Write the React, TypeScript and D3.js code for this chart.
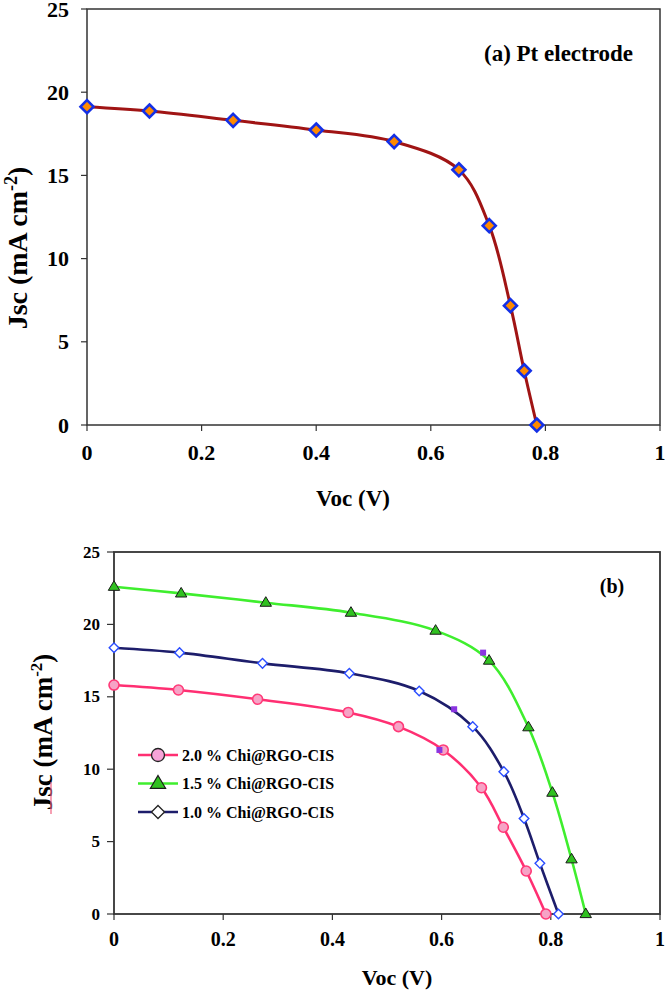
import React from "react";
import * as d3 from "d3";

// ---------- Data ----------
const xTicks = [0, 0.2, 0.4, 0.6, 0.8, 1];
const xTickLabels = ["0", "0.2", "0.4", "0.6", "0.8", "1"];
const yTicks = [0, 5, 10, 15, 20, 25];

// (a) Pt electrode
const ptV = [0, 0.109, 0.255, 0.4, 0.536, 0.649, 0.702, 0.739, 0.763, 0.785];
const ptJ = [19.13, 18.87, 18.31, 17.73, 17.03, 15.34, 11.98, 7.17, 3.26, 0];

// (b) Chi@RGO-CIS series
const s20V = [0, 0.118, 0.263, 0.429, 0.521, 0.603, 0.673, 0.713, 0.755, 0.791];
const s20J = [15.81, 15.47, 14.83, 13.92, 12.94, 11.33, 8.72, 5.99, 2.97, 0];
const s15V = [0, 0.123, 0.278, 0.434, 0.589, 0.687, 0.759, 0.803, 0.838, 0.864];
const s15J = [22.6, 22.14, 21.5, 20.81, 19.57, 17.5, 12.9, 8.38, 3.78, 0];
const s10V = [0, 0.12, 0.272, 0.431, 0.559, 0.657, 0.714, 0.751, 0.78, 0.814];
const s10J = [18.39, 18.05, 17.31, 16.62, 15.4, 12.94, 9.83, 6.6, 3.5, 0];
// small purple square markers (max power points)
const mppV = [0.596, 0.676, 0.623];
const mppJ = [11.33, 18.05, 14.14];

const legendLabels = ["2.0 % Chi@RGO-CIS", "1.5 % Chi@RGO-CIS", "1.0 % Chi@RGO-CIS"];

const FONT = '"Liberation Serif", "DejaVu Serif", serif';

function zip(xs: number[], ys: number[]) {
  return xs.map((x, i) => [x, ys[i]] as [number, number]);
}

function diamond(cx: number, cy: number, r: number) {
  return `M${cx},${cy - r}L${cx + r},${cy}L${cx},${cy + r}L${cx - r},${cy}Z`;
}
function triangle(cx: number, cy: number, r: number) {
  return `M${cx},${cy - r}L${cx + r * 0.95},${cy + r * 0.6}L${cx - r * 0.95},${cy + r * 0.6}Z`;
}

export default function App() {
  // ---------- Panel (a) ----------
  const ax = d3.scaleLinear().domain([0, 1]).range([87, 660]);
  const ay = d3.scaleLinear().domain([0, 25]).range([425, 9]);
  const aLine = d3
    .line<[number, number]>()
    .x((d) => ax(d[0]))
    .y((d) => ay(d[1]))
    .curve(d3.curveCatmullRom.alpha(0.5));
  const ptData = zip(ptV, ptJ);

  // ---------- Panel (b) ----------
  const bx = d3.scaleLinear().domain([0, 1]).range([114, 660]);
  const by = d3.scaleLinear().domain([0, 25]).range([914, 552]);
  const bLine = d3
    .line<[number, number]>()
    .x((d) => bx(d[0]))
    .y((d) => by(d[1]))
    .curve(d3.curveCatmullRom.alpha(0.5));
  const d20 = zip(s20V, s20J);
  const d15 = zip(s15V, s15J);
  const d10 = zip(s10V, s10J);

  const axisColor = "#333";

  return (
    <svg
      width={668}
      height={994}
      style={{ position: "absolute", left: 0, top: 0, background: "#fff", fontFamily: FONT }}
    >
      <rect x={0} y={0} width={668} height={994} fill="#fff" />

      {/* ===== Panel (a) ===== */}
      <g>
        <rect
          x={ax(0)}
          y={ay(25)}
          width={ax(1) - ax(0)}
          height={ay(0) - ay(25)}
          fill="none"
          stroke={axisColor}
          strokeWidth={1.5}
        />
        {yTicks.map((t) => (
          <g key={"ay" + t}>
            <line x1={ax(0) - 6} x2={ax(0)} y1={ay(t)} y2={ay(t)} stroke={axisColor} strokeWidth={1.2} />
            <text x={69} y={ay(t) + 7.5} textAnchor="end" fontSize={22} fontWeight="bold">
              {t}
            </text>
          </g>
        ))}
        {xTicks.map((t, i) => (
          <g key={"ax" + t}>
            <line x1={ax(t)} x2={ax(t)} y1={ay(0)} y2={ay(0) + 6} stroke={axisColor} strokeWidth={1.2} />
            <text x={ax(t)} y={460} textAnchor="middle" fontSize={22} fontWeight="bold">
              {xTickLabels[i]}
            </text>
          </g>
        ))}
        <text x={353} y={506} textAnchor="middle" fontSize={23} fontWeight="bold">
          Voc (V)
        </text>
        <text transform="translate(27,248) rotate(-90)" textAnchor="middle" fontSize={28} fontWeight="bold">
          Jsc (mA cm
          <tspan dy={-10} fontSize={18}>
            -2
          </tspan>
          <tspan dy={10}>)</tspan>
        </text>
        <text x={633} y={61} textAnchor="end" fontSize={23} fontWeight="bold">
          (a) Pt electrode
        </text>
        <path d={aLine(ptData) || ""} fill="none" stroke="#a01414" strokeWidth={3} />
        {ptData.map((d, i) => (
          <path
            key={"pt" + i}
            d={diamond(ax(d[0]), ay(d[1]), 6.5)}
            fill="#ff8a00"
            stroke="#1430e6"
            strokeWidth={2.6}
          />
        ))}
      </g>

      {/* ===== Panel (b) ===== */}
      <g>
        <rect
          x={bx(0)}
          y={by(25)}
          width={bx(1) - bx(0)}
          height={by(0) - by(25)}
          fill="none"
          stroke={axisColor}
          strokeWidth={1.8}
        />
        {yTicks.map((t) => (
          <g key={"by" + t}>
            <line x1={bx(0) - 7} x2={bx(0)} y1={by(t)} y2={by(t)} stroke={axisColor} strokeWidth={1.2} />
            <text x={100} y={by(t) + 5.5} textAnchor="end" fontSize={17} fontWeight="bold">
              {t}
            </text>
          </g>
        ))}
        {xTicks.map((t, i) => (
          <g key={"bx" + t}>
            <line x1={bx(t)} x2={bx(t)} y1={by(0)} y2={by(0) + 6} stroke={axisColor} strokeWidth={1.2} />
            <text x={bx(t)} y={946} textAnchor="middle" fontSize={20} fontWeight="bold">
              {xTickLabels[i]}
            </text>
          </g>
        ))}
        <text x={397} y={985} textAnchor="middle" fontSize={22} fontWeight="bold">
          Voc (V)
        </text>
        <text transform="translate(52,732) rotate(-90)" textAnchor="middle" fontSize={27} fontWeight="bold">
          Jsc (mA cm
          <tspan dy={-10} fontSize={17}>
            -2
          </tspan>
          <tspan dy={10}>)</tspan>
        </text>
        <line x1={51} x2={51} y1={782} y2={814} stroke="#f06080" strokeWidth={1.2} />
        <text x={612} y={593} textAnchor="middle" fontSize={20} fontWeight="bold">
          (b)
        </text>

        {/* curves */}
        <path d={bLine(d20) || ""} fill="none" stroke="#ff2f72" strokeWidth={2.6} />
        <path d={bLine(d10) || ""} fill="none" stroke="#1d1d6b" strokeWidth={2.6} />
        <path d={bLine(d15) || ""} fill="none" stroke="#3fee2e" strokeWidth={2.6} />

        {d20.map((d, i) => (
          <circle key={"c20" + i} cx={bx(d[0])} cy={by(d[1])} r={5} fill="#f6a3c6" stroke="#ff3a78" strokeWidth={1.6} />
        ))}
        {d10.map((d, i) => (
          <path key={"c10" + i} d={diamond(bx(d[0]), by(d[1]), 4.8)} fill="#fff" stroke="#2a4dff" strokeWidth={1.4} />
        ))}
        {d15.map((d, i) => (
          <path key={"c15" + i} d={triangle(bx(d[0]), by(d[1]), 6)} fill="#30c020" stroke="#1a1a1a" strokeWidth={1} />
        ))}
        {mppV.map((v, i) => (
          <rect key={"m" + i} x={bx(v) - 3} y={by(mppJ[i]) - 3} width={6} height={6} fill="#8a35e0" />
        ))}

        {/* legend */}
        {legendLabels.map((lab, i) => {
          const y = 755 + i * 28.5;
          const color = ["#ff2f72", "#3fee2e", "#1d1d6b"][i];
          return (
            <g key={"lg" + i}>
              <line x1={138} x2={178} y1={y} y2={y} stroke={color} strokeWidth={2.6} />
              {i === 0 && <circle cx={158} cy={y} r={6.5} fill="#f6a3d8" stroke="#222" strokeWidth={1.3} />}
              {i === 1 && <path d={triangle(158, y, 8)} fill="#30c020" stroke="#1a1a1a" strokeWidth={1.2} />}
              {i === 2 && <path d={diamond(158, y, 6.5)} fill="#fff" stroke="#222" strokeWidth={1.3} />}
              <text x={182} y={y + 5.5} fontSize={16} fontWeight="bold">
                {lab}
              </text>
            </g>
          );
        })}
      </g>
    </svg>
  );
}
